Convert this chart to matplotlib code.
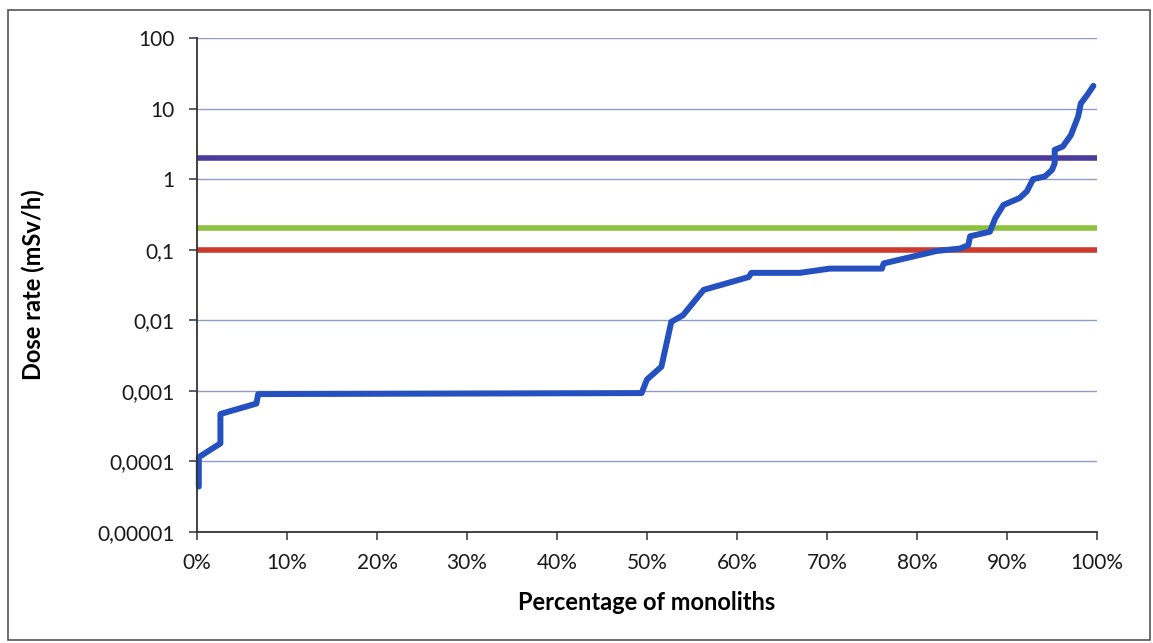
import matplotlib
matplotlib.use("Agg")
import matplotlib.pyplot as plt
from matplotlib.patches import Rectangle
from matplotlib.ticker import FixedLocator, FixedFormatter, NullLocator

# ---- data ----
pct_monoliths = [0.2, 0.2, 2.6, 2.6, 6.6, 6.8, 49.4, 50.0, 51.6, 52.7, 54.0, 56.3,
                 61.3, 61.6, 67.0, 70.3, 76.1, 76.3, 82.2, 84.8, 85.7, 85.9, 88.1,
                 88.7, 89.6, 91.4, 92.2, 92.9, 94.2, 95.0, 95.3, 95.3, 96.2, 97.1,
                 97.9, 98.2, 98.9, 99.6]
dose_rate = [4.4e-5, 1.15e-4, 1.8e-4, 4.7e-4, 6.6e-4, 9.0e-4, 9.3e-4, 1.45e-3,
             2.2e-3, 9.5e-3, 1.18e-2, 2.7e-2, 4.1e-2, 4.7e-2, 4.7e-2, 5.4e-2,
             5.4e-2, 6.4e-2, 9.6e-2, 0.104, 0.116, 0.155, 0.18, 0.28, 0.43, 0.54,
             0.67, 1.0, 1.09, 1.35, 1.68, 2.6, 2.9, 4.2, 7.7, 11.8, 15.5, 21.0]

limit_x = [0, 100]
limit_purple = [2.0, 2.0]
limit_green = [0.2, 0.2]
limit_red = [0.1, 0.1]

x_ticks = [0, 10, 20, 30, 40, 50, 60, 70, 80, 90, 100]
x_ticklabels = ["0%", "10%", "20%", "30%", "40%", "50%", "60%", "70%", "80%", "90%", "100%"]
y_ticks = [1e-5, 1e-4, 1e-3, 1e-2, 1e-1, 1, 10, 100]
y_ticklabels = ["0,00001", "0,0001", "0,001", "0,01", "0,1", "1", "10", "100"]

plt.rcParams['font.family'] = ['Lato', 'DejaVu Sans']

fig = plt.figure(figsize=(11.53, 6.43), dpi=100)
fig.patches.append(Rectangle((8/1153, 3/643), (1150-8)/1153, (633-3)/643,
                             transform=fig.transFigure, fill=False,
                             edgecolor='#555555', linewidth=1.2))

ax = fig.add_axes([197/1153, 1-532/643, 900/1153, 494/643])
ax.set_yscale('log')
ax.set_xlim(0, 100)
ax.set_ylim(1e-5, 100)

ax.yaxis.set_major_locator(FixedLocator(y_ticks))
ax.yaxis.set_major_formatter(FixedFormatter(y_ticklabels))
ax.yaxis.set_minor_locator(NullLocator())
ax.xaxis.set_major_locator(FixedLocator(x_ticks))
ax.xaxis.set_major_formatter(FixedFormatter(x_ticklabels))

ax.grid(axis='y', color='#8e9cc6', linewidth=1.0)
ax.set_axisbelow(True)

for s in ['top', 'right']:
    ax.spines[s].set_visible(False)
for s in ['left', 'bottom']:
    ax.spines[s].set_color('#333333')
    ax.spines[s].set_linewidth(1.3)

ax.tick_params(axis='both', direction='out', length=6, width=1.2, color='#444444',
               labelsize=15, labelcolor='#1a1a1a')
ax.tick_params(axis='x', pad=9)
ax.tick_params(axis='y', pad=10)

lw = 4.0
ax.plot(limit_x, limit_purple, color='#4b3b9a', linewidth=lw, solid_capstyle='butt')
ax.plot(limit_x, limit_green, color='#8cc03e', linewidth=lw, solid_capstyle='butt')
ax.plot(limit_x, limit_red, color='#cc3a2e', linewidth=lw, solid_capstyle='butt')
ax.plot(pct_monoliths, dose_rate, color='#2450c0', linewidth=4.3,
        solid_joinstyle='round', solid_capstyle='round', clip_on=False)

ax.set_xlabel("Percentage of monoliths", fontsize=17, fontweight='bold', va='center')
ax.xaxis.set_label_coords(0.5, (532 - 602) / 494)
ax.set_ylabel("Dose rate (mSv/h)", fontsize=17, fontweight='bold', va='center')
ax.yaxis.set_label_coords((33 - 197) / 900, (532 - 285) / 494)

fig.savefig("out.png", dpi=100)
